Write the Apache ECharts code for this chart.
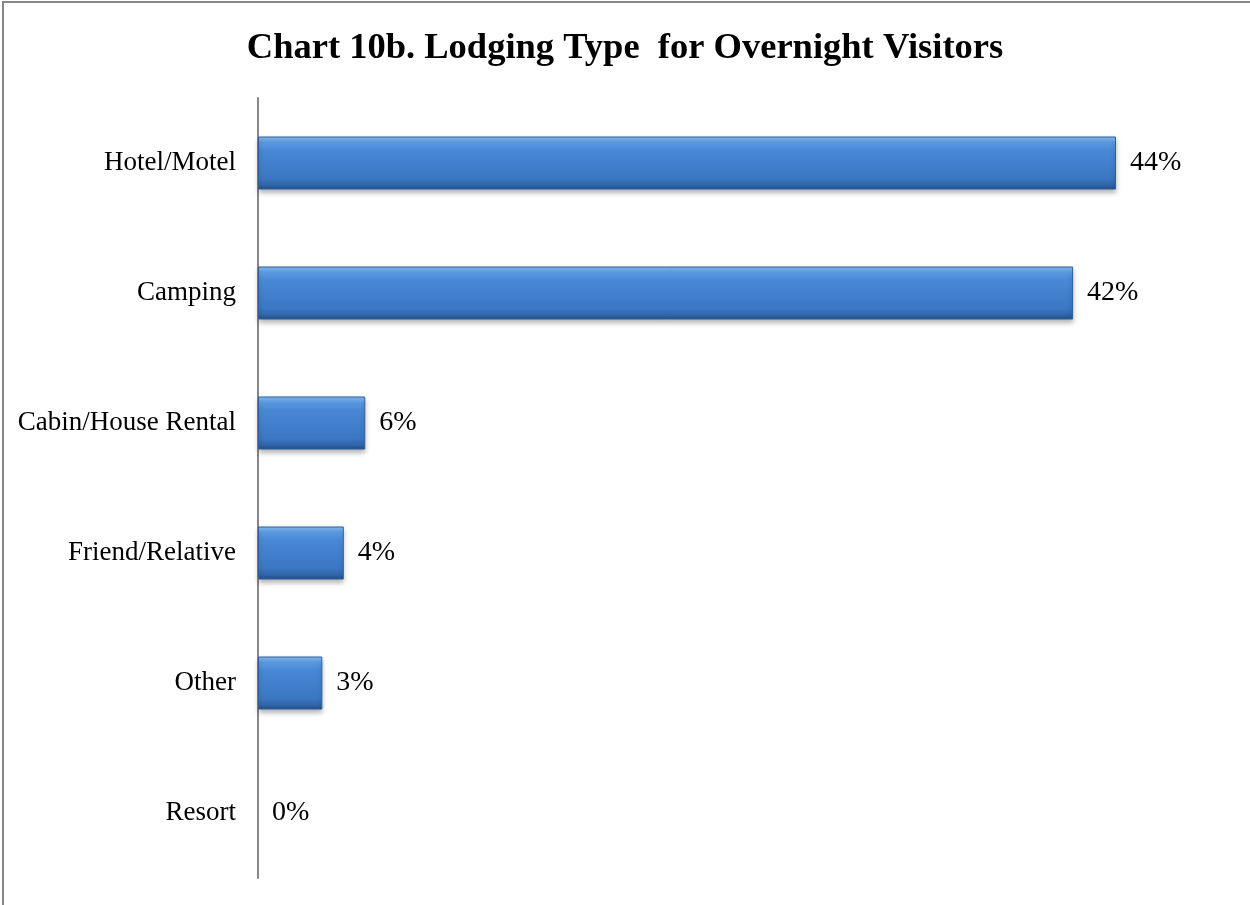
<!DOCTYPE html>
<html>
<head>
<meta charset="utf-8">
<script src="https://cdn.jsdelivr.net/npm/echarts@6/dist/echarts.min.js"></script>
<style>
html,body{margin:0;padding:0;background:#fff;overflow:hidden;}
#wrap{position:relative;width:1250px;height:905px;}
#chart{width:1250px;height:905px;}
#frame{position:absolute;left:2px;top:1px;width:1260px;height:920px;border-left:2px solid #868686;border-top:2px solid #868686;pointer-events:none;}
</style>
</head>
<body>
<div id="wrap"><div id="chart"></div><div id="frame"></div></div>
<script>
const categories = ['Hotel/Motel', 'Camping', 'Cabin/House Rental', 'Friend/Relative', 'Other', 'Resort'];
const values = [44, 41.8, 5.5, 4.4, 3.3, 0];
const titleText = 'Chart 10b. Lodging Type  for Overnight Visitors';

const chart = echarts.init(document.getElementById('chart'));
const serif = '"Liberation Serif", "Times New Roman", serif';
const barData = values.map(v => v === 0
  ? {value: v, itemStyle: {borderWidth: 0, opacity: 0}}
  : v);
chart.setOption({
  animation: false,
  backgroundColor: '#ffffff',
  title: {
    text: titleText,
    left: 'center',
    top: 25,
    textStyle: {fontFamily: serif, fontWeight: 'bold', fontSize: 36.5, color: '#000'}
  },
  grid: {left: 258, top: 98, width: 975, height: 780},
  xAxis: {
    type: 'value', min: 0, max: 50, show: false
  },
  yAxis: {
    type: 'category',
    data: categories,
    inverse: true,
    axisLine: {show: true, lineStyle: {color: '#868686', width: 2}},
    axisTick: {show: false},
    axisLabel: {fontFamily: serif, fontSize: 27, color: '#000', margin: 22}
  },
  series: [{
    type: 'bar',
    data: barData,
    barWidth: 53,
    itemStyle: {
      color: new echarts.graphic.LinearGradient(0, 0, 0, 1, [
        {offset: 0, color: '#8ac0f5'},
        {offset: 0.12, color: '#5a9be4'},
        {offset: 0.25, color: '#4a88d6'},
        {offset: 0.8, color: '#3a76c2'},
        {offset: 0.92, color: '#2f64a8'},
        {offset: 1, color: '#234d85'}
      ]),
      borderColor: '#2e5f9c',
      borderWidth: 1,
      shadowColor: 'rgba(0,0,0,0.3)',
      shadowBlur: 5,
      shadowOffsetY: 3
    },
    label: {
      show: true,
      position: 'right',
      distance: 14,
      fontFamily: serif,
      fontSize: 28,
      color: '#000',
      opacity: 1,
      formatter: p => Math.round(p.value) + '%'
    }
  }]
});
</script>
</body>
</html>
